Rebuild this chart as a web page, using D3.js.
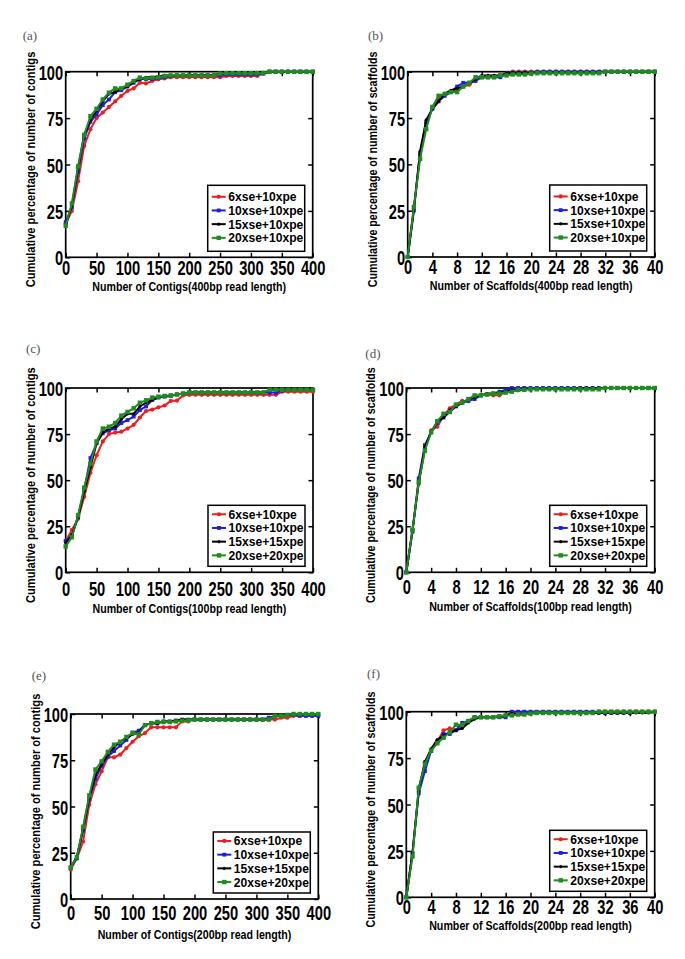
<!DOCTYPE html>
<html><head><meta charset="utf-8">
<script src="https://cdn.jsdelivr.net/npm/d3@7"></script>
<style>body{margin:0;background:#fff} svg{display:block}</style>
</head><body>
<svg id="chart" width="685" height="959"></svg>
<script>
// ---------------- data ----------------
const contigX   = [0,10,20,30,40,50,60,70,80,90,100,110,120,130,140,150,160,170,180,190,200,210,220,230,240,250,260,270,280,290,300,310,320,330,340,350,360,370,380,390,400];
const scaffoldX = [0,1,2,3,4,5,6,7,8,9,10,11,12,13,14,15,16,17,18,19,20,21,22,23,24,25,26,27,28,29,30,31,32,33,34,35,36,37,38,39,40];
const contigTicks   = [0,50,100,150,200,250,300,350,400];
const scaffoldTicks = [0,4,8,12,16,20,24,28,32,36,40];
const yTicks = [0,25,50,75,100];

const legendTop    = ["6xse+10xpe","10xse+10xpe","15xse+10xpe","20xse+10xpe"];
const legendBottom = ["6xse+10xpe","10xse+10xpe","15xse+15xpe","20xse+20xpe"];
const panelLetters = ["(a)","(b)","(c)","(d)","(e)","(f)"];
const xTitles = ["Number of Contigs(400bp read length)","Number of Scaffolds(400bp read length)",
                 "Number of Contigs(100bp read length)","Number of Scaffolds(100bp read length)",
                 "Number of Contigs(200bp read length)","Number of Scaffolds(200bp read length)"];
const yTitles = ["Cumulative percentage of number of contigs","Cumulative percentage of number of scaffolds",
                 "Cumulative percentage of number of contigs","Cumulative percentage of number of scaffolds",
                 "Cumulative percentage of number of contigs","Cumulative percentage of number of scaffolds"];

// (a) contigs, 400bp
const a_red   = [18,25,41,60,69,75,78,81,84,87,89.6,91,94,93.7,95,95.9,96.4,97,97,97,97,97,97,97,97,97,97.7,97.7,97.7,97.7,97.7,97.7,99,100,100,100,100,100,100,100,100];
const a_blue  = [19,27,46,64,73,77,82,85,89,90,92,94,96,96,96,96.5,97,97.5,98,98,98,98,98,98,98,98,98.5,98.5,98.5,98.5,98.5,98.5,99,100,100,100,100,100,100,100,100];
const a_black = [17,28,48,66,74,79,84,88,89,91,92,94.5,96,97,97,97.5,98,98,98,98,98.2,98.2,98.2,98.2,98.2,99,99.3,99.3,99.3,99.3,99.3,99.3,99.3,100,100,100,100,100,100,100,100];
const a_green = [17,29,49,66,76,80,85,88.7,91,91,93,95,96.8,96.4,96.8,97,97.7,98,98,98,98,98,98,98,98,99,99.2,99.2,99.2,99.2,99.2,99.2,99.3,100,100,100,100,100,100,100,100];
// (b) scaffolds, 400bp
const b_red   = [0,26,55,72,80,85,88,89,90,92,93,96,97,97,97.5,98,99,100,100,100,100,100,100,100,100,100,100,100,100,100,100,100,100,100,100,100,100,100,100,100,100];
const b_blue  = [0,25,56,73,80,84,87,89,92,94,94,95,97,97,97,97,99,99.5,99.5,99.5,99.5,100,100,100,100,100,100,100,100,100,100,100,100,100,100,100,100,100,100,100,100];
const b_black = [0,26,57,74,80,84,88,90,91,92,94,96,98,98,98,98,99,99.5,99.5,99.5,99.5,99.5,99.5,99.5,99.5,99.5,99.5,99.5,99.5,99.5,99.5,99.5,100,100,100,100,100,100,100,100,100];
const b_green = [0,27,53,69,81,87,88,89,89,92,94,97,97,97,97,98,98,98.5,98.5,98.5,99,99.2,99.2,99.2,99.2,99.2,99.2,99.2,99.2,99.2,99.2,99.2,100,100,100,100,100,100,100,100,100];
// (c) contigs, 100bp
const c_red   = [17,23,29,41,54,63.5,71,75,75.8,76.3,78,80,84,87.5,88.3,89.5,90.5,93,93.2,96,96.3,96.3,96.3,96.3,96.3,96.3,96.3,96.3,96.3,96.3,96.3,96.3,96.3,96.3,96.3,98,98,98,98,98,98];
const c_blue  = [17,20,30,45,62,70,75.4,77,78,81,82.6,84.5,88,90,93.5,94.8,95.3,95.7,96.5,97,97.5,97.5,97.5,97.5,97.5,97.5,97.5,97.5,97.5,97.5,97.5,97.5,97.5,97.5,97.5,98.5,99,99,99,99,99];
const c_black = [16,20,30,44,57,70,76,78,79,83,86,86,90,92,93.5,95,95.5,96,96.5,97,97.5,97.5,97.5,97.5,97.5,97.5,97.5,97.5,97.5,97.5,97.5,97.5,97.5,99,99,99,99,99,99,99,99];
const c_green = [14,19,31,46,59,71,78,79,81,85,87,89,92,93.3,94.8,95.3,95.7,96,96.5,97,97.6,97.6,97.6,97.6,97.6,97.6,97.6,97.6,97.6,97.6,97.6,97.6,97.6,99,99,99,99,99,99,99,99];
// (d) scaffolds, 100bp
const d_red   = [0,23,48,67,77,79,85,89,91,93,93,95,96,96.5,96,96,98,99,100,100,100,100,100,100,100,100,100,100,100,100,100,100,100,100,100,100,100,100,100,100,100];
const d_blue  = [0,22,51,69,76,81,84,87,90,92,93,94,96,96.5,97,98,99,100,100,100,100,100,100,100,100,100,100,100,100,100,100,100,100,100,100,100,100,100,100,100,100];
const d_black = [0,23,49,68,76,82,84,88,90,92,94,95,96,97,97,97.5,98,99,98.5,99.5,99.5,99.5,99.5,99.5,99.5,99.5,99.5,99.5,100,100,100,100,100,100,100,100,100,100,100,100,100];
const d_green = [0,23,49,66,76,82,86,87,91,92,94,96,96,96.5,97,97,97.5,98,99,99,99.3,99.3,99.3,99.3,99.3,99.3,99.3,99.3,99.3,99.3,99.3,99.3,100,100,100,100,100,100,100,100,100];
// (e) contigs, 200bp
const e_red   = [16,22,31,51,62,69,76.6,76.6,78,81.6,85,88,89.7,92.8,92.8,92.8,92.8,92.8,96,96,97,97,97,97,97,97,97,97,97,97,97,97,97,97,98,98,99,99,99,99,99];
const e_blue  = [17,22,37,54,65,72,77,80,83,86,90,91,94,95,95,96,96,96.5,97,97,97,97,97,97,97,97,97,97,97,97,97,97,98,99,99,99.5,99.5,99,99,99,99];
const e_black = [17,23,38,55,67,73,78,82,85,87,89,90,94,95,95,96,96,96.5,97,97,97,97,97,97,97,97,97,97,97,97,97,97,97,99,99,99.5,100,100,100,100,100];
const e_green = [17,22.7,39,56,70,74.4,79.5,83.4,85,87.6,89.7,89,94,95,95.7,95.7,95.7,96,96.4,96.6,97,97,97,97,97,97,97,97,97,97,97,97,97,99,99,99.5,100,100,100,100,100];
// (f) scaffolds, 200bp
const f_red   = [0,24,57,73,79,84,90,91,90,92,95,97,97,97,97,97.5,98,99,99,99,99.3,99.3,99.3,99.3,99.3,99.3,99.3,99.3,99.3,99.3,99.3,100,100,100,100,100,100,100,100,100,100];
const f_blue  = [0,24,56,68,79,84,88,88,90,94,95,97,97,97,97,97,97,100,100,100,100,100,100,100,100,100,100,100,100,100,100,99.3,99.3,99.3,99.3,99.3,99.3];
const f_black = [0,24,58,73,80,85,87,89,90,91,94,96,97,97,97,97.5,98,99,98.5,98.5,99,99.3,99.3,99.3,99.3,99.3,99.3,99.3,99.3,99.3,99.3,99.3,99.3,99.3,99.3,99.3,99.3,99.3,99.3,99.3,100];
const f_green = [0,22,59,72,79,83,86,89,93,93,95,97,97,97,97,97.5,98,98,98.5,98.5,99,99.3,99.3,99.3,99.3,99.3,99.3,99.3,99.3,99.3,99.3,100,100,100,100,100,100,100,100,100,100];

// ---------------- styles / layout ----------------
const seriesStyle = [
  {color:"#f01c1c", shape:"circle", size:2.1},
  {color:"#1c1ce8", shape:"square", size:3.8},
  {color:"#000000", shape:"circle", size:1.6},
  {color:"#1e8c1e", shape:"square", size:4.4}
];
const layout = [
  {L:65.7, R:312.7, T:71.7, B:257.3, tickDy:10.5, titleDy:29.5, lx:22.7, ly:35,    legH:66},
  {L:407.7,R:654.7, T:71.7, B:257.0, tickDy:9.5,  titleDy:28.5, lx:368,  ly:35,    legH:66},
  {L:65.7, R:313.0, T:388,  B:572.3, tickDy:16,   titleDy:36,   lx:26,   ly:348.3, legH:61},
  {L:406.3,R:654.7, T:388,  B:572.3, tickDy:14,   titleDy:34,   lx:365.3,ly:353,   legH:61},
  {L:70.7, R:318.3, T:714,  B:899,   tickDy:13.5, titleDy:36,   lx:31.7, ly:675,   legH:61},
  {L:406.3,R:654.7, T:711.7,B:897.3, tickDy:9.5,  titleDy:28.5, lx:367,  ly:673.3, legH:61}
];
const panels = [
  {xs:contigX,   ticks:contigTicks,   max:400, series:[a_red,a_blue,a_black,a_green], legend:legendTop,    xLen:194},
  {xs:scaffoldX, ticks:scaffoldTicks, max:40,  series:[b_red,b_blue,b_black,b_green], legend:legendTop,    xLen:203},
  {xs:contigX,   ticks:contigTicks,   max:400, series:[c_red,c_blue,c_black,c_green], legend:legendBottom, xLen:194},
  {xs:scaffoldX, ticks:scaffoldTicks, max:40,  series:[d_red,d_blue,d_black,d_green], legend:legendBottom, xLen:203},
  {xs:contigX,   ticks:contigTicks,   max:400, series:[e_red,e_blue,e_black,e_green], legend:legendBottom, xLen:194},
  {xs:scaffoldX, ticks:scaffoldTicks, max:40,  series:[f_red,f_blue,f_black,f_green], legend:legendBottom, xLen:203}
];

const FONT = "'Liberation Sans', Arial, Helvetica, sans-serif";
// horizontally compress a text by a transform, anchored at (tx,ty)
function squeezeAt(node, f, tx, ty, extra){
  d3.select(node).attr("x",0).attr("y",0)
    .attr("transform",`translate(${tx},${ty})${extra||""} scale(${f},1)`);
}
function marker(g, st, cx, cy){
  if(st.shape==="circle"){
    g.append("circle").attr("cx",cx).attr("cy",cy).attr("r",st.size).attr("fill",st.color);
  } else {
    g.append("rect").attr("x",cx-st.size/2).attr("y",cy-st.size/2)
      .attr("width",st.size).attr("height",st.size).attr("fill",st.color);
  }
}

const svg = d3.select("#chart");
svg.append("rect").attr("width",685).attr("height",959).attr("fill","#fff");

panels.forEach((p, i) => {
  const lay = layout[i];
  const x = d3.scaleLinear().domain([0, p.max]).range([lay.L, lay.R]);
  const y = d3.scaleLinear().domain([0, 100]).range([lay.B, lay.T]);
  const g = svg.append("g");

  // panel letter
  g.append("text").attr("x", lay.lx).attr("y", lay.ly).attr("dy","0.35em")
    .attr("font-family","'Liberation Serif','Times New Roman',serif").attr("font-size",13)
    .attr("fill","#555").text(panelLetters[i]);

  // axes with inward ticks
  const tk = 4.5, tf = 0.7;
  const bottom = g.append("g").attr("transform",`translate(0,${lay.B})`)
    .call(d3.axisBottom(x).tickValues(p.ticks).tickSize(-tk).tickFormat(d3.format("d")));
  const top = g.append("g").attr("transform",`translate(0,${lay.T})`)
    .call(d3.axisTop(x).tickValues(p.ticks).tickSize(-tk).tickFormat(""));
  const left = g.append("g").attr("transform",`translate(${lay.L},0)`)
    .call(d3.axisLeft(y).tickValues(yTicks).tickSize(-tk).tickFormat(d3.format("d")));
  const right = g.append("g").attr("transform",`translate(${lay.R},0)`)
    .call(d3.axisRight(y).tickValues(yTicks).tickSize(-tk).tickFormat(""));
  [bottom, top, left, right].forEach(a => {
    a.select(".domain").remove();
    a.selectAll(".tick line").attr("stroke","#000").attr("stroke-width",1.5);
  });
  bottom.selectAll(".tick text").attr("dy","0.36em")
    .attr("font-family",FONT).attr("font-weight","bold").attr("font-size",21).attr("fill","#000")
    .each(function(){ squeezeAt(this, tf, 0, lay.tickDy); });
  left.selectAll(".tick text").attr("dy","0.36em")
    .attr("font-family",FONT).attr("font-weight","bold").attr("font-size",21).attr("fill","#000")
    .each(function(){ squeezeAt(this, tf, -2.5, 0); });

  // frame
  g.append("rect").attr("x",lay.L).attr("y",lay.T).attr("width",lay.R-lay.L).attr("height",lay.B-lay.T)
    .attr("fill","none").attr("stroke","#000").attr("stroke-width",1.7);

  // axis titles
  const xt = g.append("text").attr("dy","0.35em")
    .attr("text-anchor","middle").attr("font-family",FONT).attr("font-weight","bold").attr("font-size",12.5)
    .text(xTitles[i]);
  squeezeAt(xt.node(), p.xLen / xt.node().getComputedTextLength(), (lay.L+lay.R)/2, lay.B+lay.titleDy);
  const cy = (lay.T+lay.B)/2 + 5;
  const yt = g.append("text")
    .attr("text-anchor","middle").attr("font-family",FONT).attr("font-weight","bold").attr("font-size",12.5)
    .text(yTitles[i]);
  squeezeAt(yt.node(), 236 / yt.node().getComputedTextLength(), lay.L-31, cy, " rotate(-90)");

  // series
  const line = d3.line().x((d,j)=>x(p.xs[j])).y(d=>y(d));
  p.series.forEach((vals, s) => {
    const st = seriesStyle[s];
    const sg = g.append("g");
    sg.append("path").datum(vals).attr("d",line).attr("fill","none")
      .attr("stroke",st.color).attr("stroke-width",2).attr("stroke-linejoin","round");
    vals.forEach((v,j) => marker(sg, st, x(p.xs[j]), y(v)));
  });

  // legend
  const lw = 97, lh = lay.legH;
  const lxp = lay.R - 8 - lw, lyp = lay.B - 6 - lh;
  const lg = g.append("g");
  lg.append("rect").attr("x",lxp).attr("y",lyp).attr("width",lw).attr("height",lh)
    .attr("fill","#fff").attr("stroke","#000").attr("stroke-width",1.5);
  const rowH = 13.7;
  const first = lyp + (lh - 3*rowH)/2 - 1;
  p.legend.forEach((lab, s) => {
    const st = seriesStyle[s];
    const ry = first + s*rowH;
    lg.append("line").attr("x1",lxp+4).attr("x2",lxp+18).attr("y1",ry).attr("y2",ry)
      .attr("stroke",st.color).attr("stroke-width",2);
    marker(lg, st, lxp+11, ry);
    const t = lg.append("text").attr("dy","0.36em")
      .attr("font-family",FONT).attr("font-weight","bold").attr("font-size",12.5).text(lab);
    squeezeAt(t.node(), 0.97, lxp+20.5, ry);
  });
});
</script></body></html>
